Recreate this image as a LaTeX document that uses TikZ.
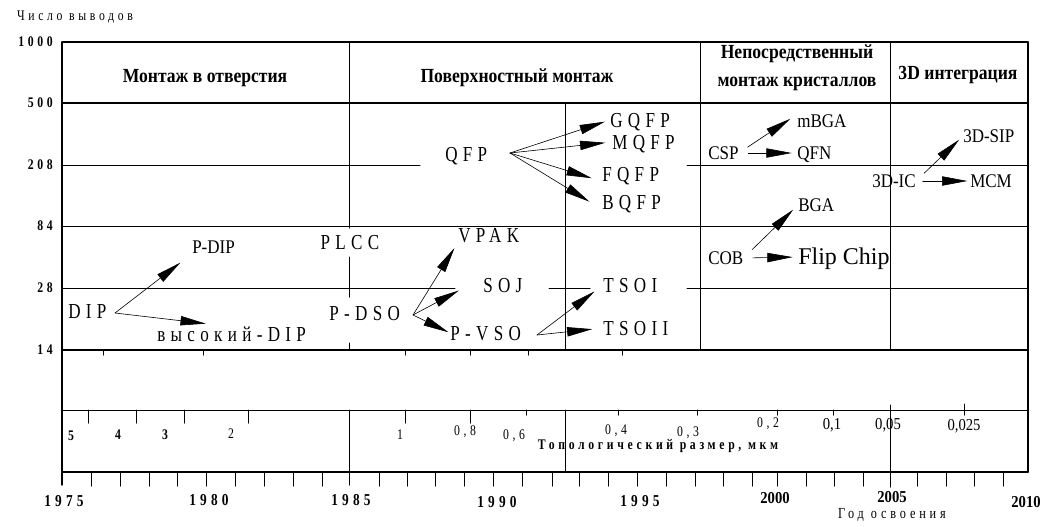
\documentclass[tikz,border=0pt]{standalone}
\usepackage{fontspec}
\setmainfont{Liberation Serif}
\newfontfamily\spcfont{Liberation Serif}[LetterSpace=25,FakeStretch=0.8]
\newfontfamily\cndfont{Liberation Serif}[FakeStretch=0.88]
\usetikzlibrary{arrows.meta}

\begin{document}
\begin{tikzpicture}[x=0.75pt,y=-0.75pt,line cap=round,line join=round,
    gline/.style={line width=.75pt},
    fline/.style={line width=1.05pt},
    evol/.style={-{Triangle[length=19pt,width=7pt]},line width=.45pt},
    hdr/.style={font=\cndfont\bfseries\fontsize{15}{21}\selectfont,inner sep=0pt,
      text height=10pt,text depth=0pt},
    spkg/.style={font=\spcfont\fontsize{16}{18}\selectfont,inner sep=0pt,
      text height=10.6pt,text depth=0pt},
    pkg/.style={font=\cndfont\fontsize{14.5}{17}\selectfont,inner sep=0pt,
      text height=9.6pt,text depth=0pt},
    scl/.style={font=\spcfont\fontsize{11}{13}\selectfont,inner sep=0pt},
    sclb/.style={font=\spcfont\bfseries\fontsize{11}{13}\selectfont,inner sep=0pt},
    sclc/.style={font=\cndfont\fontsize{12.5}{14}\selectfont,inner sep=0pt},
    yr/.style={font=\spcfont\bfseries\fontsize{12.5}{14}\selectfont,inner sep=0pt},
    yrc/.style={font=\cndfont\bfseries\fontsize{12.5}{14}\selectfont,inner sep=0pt}]
    \fill[white] (0,0) rectangle (1043,526);
    \useasboundingbox (0,0) rectangle (1043,526);

    % Frame and the grid of the table.
    \draw[fline] (62,42) -- (1028,42);
    \draw[fline] (62,42) -- (62,485);
    \draw[fline] (1028,42) -- (1028,472);
    \draw[fline] (62,103) -- (1028,103);
    \draw[gline] (62,165) -- (420,165);
    \draw[gline] (687,165) -- (1028,165);
    \draw[gline] (62,226) -- (1028,226);
    \draw[gline] (62,288) -- (455,288);
    \draw[gline] (549,288) -- (590,288);
    \draw[gline] (687,288) -- (1028,288);
    \draw[fline] (62,350) -- (1028,350);
    \draw[gline] (62,410) -- (1028,410);
    \draw[fline] (62,472) -- (1028,472);

    \draw[gline] (349,42) -- (349,228);
    \draw[gline] (349,257) -- (349,297);
    \draw[gline] (349,343) -- (349,350);
    \draw[gline] (349,410) -- (349,485);
    \draw[gline] (565,103) -- (565,350);
    \draw[gline] (565,410) -- (565,472);
    \draw[gline] (700,42) -- (700,350);
    \draw[gline] (890,42) -- (890,350);
    \draw[gline] (890,405) -- (890,487);

    % Ticks: years below, feature size above.
    \foreach \x in {91,120,149,177,206,235,264,293,322,379,407,435,464,493,
        522,552,579,608,637,666,695,723,752,777,806,834,863,917,946,974,1003}
      \draw[gline] (\x,472) -- (\x,486);
    \foreach \x in {88,136,184,248,405,470}
      \draw[gline] (\x,410) -- (\x,423);
    \foreach \x in {526,618,697,777,833}
      \draw[gline] (\x,410) -- (\x,415);
    \draw[gline] (964,404) -- (964,415);
    \foreach \x in {103,203,405,470,528,622}
      \draw[gline] (\x,350) -- (\x,355);

    % Column headers.
    \node[hdr] (thole) at (205,76) {Монтаж в отверстия};
    \node[hdr] (tsurf) at (517,76) {Поверхностный монтаж};
    \node[font=\cndfont\bfseries\fontsize{15}{21}\selectfont,align=center,
      inner sep=0pt] (tdie) at (797,68) {Непосредственный\\монтаж кристаллов};
    \node[hdr] (t3d) at (958,73) {3D интеграция};

    % Axis of pin count.
    \node[scl] (ylab) at (75,17) {Число выводов};
    \node[sclb,anchor=east] (y1000) at (53,42) {1000};
    \node[sclb,anchor=east] (y500) at (53,103) {500};
    \node[sclb,anchor=east] (y208) at (53,165) {208};
    \node[sclb,anchor=east] (y84) at (53,226) {84};
    \node[sclb,anchor=east] (y28) at (53,288) {28};
    \node[sclb,anchor=east] (y14) at (53,350) {14};

    % Feature size and years.
    \node[sclb] (s5) at (71,436) {5};
    \node[sclb] (s4) at (118,435) {4};
    \node[sclb] (s3) at (165,435) {3};
    \node[scl] (s2) at (231,434) {2};
    \node[scl] (s1) at (400,435) {1};
    \node[scl] (s08) at (465,432) {0,8};
    \node[scl] (s06) at (514,436) {0,6};
    \node[scl] (s04) at (616,431) {0,4};
    \node[scl] (s03) at (688,433) {0,3};
    \node[scl] (s02) at (768,424) {0,2};
    \node[sclc] (s01) at (832,425) {0,1};
    \node[sclc] (s005) at (888,425) {0,05};
    \node[sclc] (s0025) at (964,426) {0,025};
    \node[sclb] (slab) at (658,446) {Топологический размер, мкм};

    \node[yr] (g1975) at (64,501) {1975};
    \node[yr] (g1980) at (209,500) {1980};
    \node[yr] (g1985) at (351,500) {1985};
    \node[yr] (g1990) at (497,502) {1990};
    \node[yr] (g1995) at (640,501) {1995};
    \node[yrc] (g2000) at (775,498) {2000};
    \node[yrc] (g2005) at (892,497) {2005};
    \node[yrc] (g2010) at (1026,502) {2010};
    \node[scl,font=\spcfont\fontsize{11.5}{13}\selectfont] (glab) at (892,515) {Год освоения};

    % Through-hole packages.
    \node[spkg,anchor=west] (dip) at (68,311) {DIP};
    \node[pkg,anchor=west] (pdip) at (192,247) {P-DIP};
    \node[spkg,anchor=west] (hdip) at (157,334) {высокий-DIP};
    \node[spkg] (plcc) at (350,242) {PLCC};
    \coordinate (dipfan) at (115,313);
    \draw[evol,shorten >=11pt] (dipfan) -- (pdip.south west);
    \draw[evol,shorten >=19.5pt] (dipfan) -- (hdip.north);

    % Surface mount packages.
    \node[spkg,anchor=west] (pdso) at (329,313) {P-DSO};
    \node[spkg,anchor=west] (vpak) at (458,235) {VPAK};
    \node[spkg,anchor=west] (soj) at (483,285) {SOJ};
    \node[spkg,anchor=west] (pvso) at (450,333) {P-VSO};
    \node[spkg,anchor=west] (tsoi) at (603,285) {TSOI};
    \node[spkg,anchor=west] (tsoii) at (603,328) {TSOII};
    \coordinate (pdsofan) at (413,315);
    \draw[evol,shorten >=5pt] (pdsofan) -- (vpak.south west);
    \draw[evol,shorten >=20.5pt] (pdsofan) -- (soj.north west);
    \draw[evol,shorten >=1.3pt] (pdsofan) -- (pvso.west);
    \coordinate (pvsofan) at (537,335);
    \draw[evol,shorten >=8pt] (pvsofan) -- (tsoi.west);
    \draw[evol,shorten >=8pt] (pvsofan) -- (tsoii.west);

    \node[spkg,anchor=west] (qfp) at (445,154) {QFP};
    \node[spkg,anchor=west] (gqfp) at (610,120) {GQFP};
    \node[spkg,anchor=west] (mqfp) at (612,142) {MQFP};
    \node[spkg,anchor=west] (fqfp) at (602,174) {FQFP};
    \node[spkg,anchor=west] (bqfp) at (602,202) {BQFP};
    \coordinate (qfpfan) at (510,153);
    \draw[evol,shorten >=4pt] (qfpfan) -- (gqfp.west);
    \draw[evol,shorten >=5pt] (qfpfan) -- (mqfp.west);
    \draw[evol,shorten >=8pt] (qfpfan) -- (fqfp.south west);
    \draw[evol,shorten >=11pt] (qfpfan) -- (bqfp.south west);

    % Bare die mounting.
    \node[pkg,anchor=west] (csp) at (708,153) {CSP};
    \node[pkg,anchor=west] (mbga) at (797,121) {mBGA};
    \node[pkg,anchor=west] (qfn) at (797,153) {QFN};
    \draw[evol,shorten <=8pt,shorten >=6pt] (csp.east) -- (mbga.north west);
    \draw[evol,shorten <=7pt,shorten >=4pt] (csp.east) -- (qfn.west);

    \node[pkg,anchor=west] (cob) at (708,258) {COB};
    \node[pkg,anchor=west] (bga) at (798,205) {BGA};
    \node[font=\fontsize{18}{20}\selectfont,inner sep=0pt,text height=11.9pt,
      text depth=0pt,anchor=west] (flip) at (798,257) {Flip Chip};
    \draw[evol,shorten <=9pt,shorten >=5pt] (cob.east) -- (bga.west);
    \draw[evol,shorten <=7pt,shorten >=4pt] (cob.east) -- (flip.west);

    % 3D integration.
    \node[pkg,anchor=west] (ic3d) at (872,181) {3D-IC};
    \node[pkg,anchor=west] (sip3d) at (963,136) {3D-SIP};
    \node[pkg,anchor=west] (mcm) at (970,181) {MCM};
    \draw[evol,shorten <=8.5pt,shorten >=4pt] (ic3d.east) -- (sip3d.west);
    \draw[evol,shorten <=5pt,shorten >=2pt] (ic3d.east) -- (mcm.west);
  \end{tikzpicture}
\end{document}
